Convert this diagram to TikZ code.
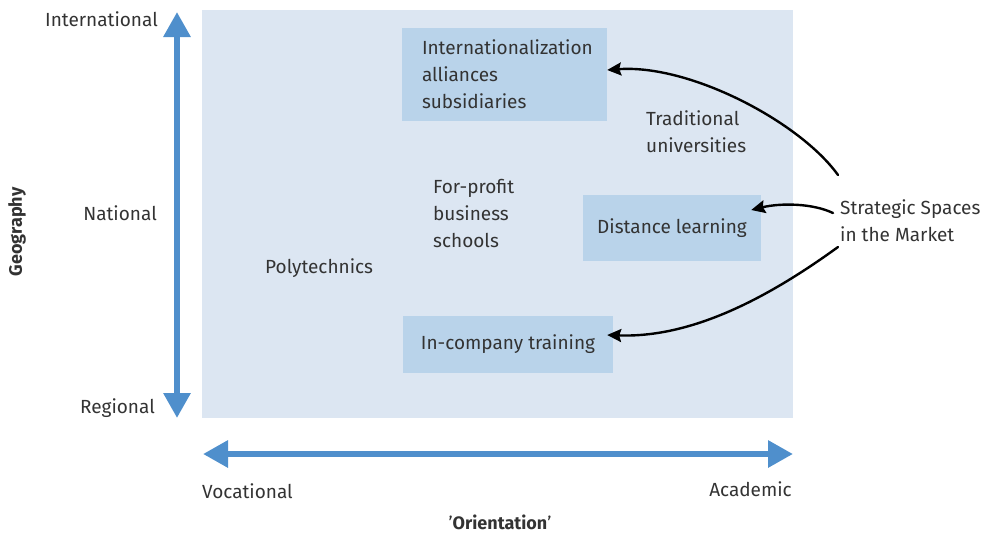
\documentclass[tikz,border=0pt]{standalone}
\usepackage{fontspec}
\setmainfont{Fira Sans}
\usetikzlibrary{arrows.meta}
\definecolor{planeblue}{HTML}{DCE6F2}
\definecolor{spaceblue}{HTML}{B9D3EA}
\definecolor{axisblue}{HTML}{4F8FCC}
\definecolor{inkgray}{HTML}{333333}
\begin{document}
\begin{tikzpicture}[x=1pt,y=-1pt,line cap=round,line join=round,
	lbl/.style={font=\fontsize{19}{27}\selectfont,text=inkgray,inner sep=0pt,align=left},
	spacebox/.style={lbl,fill=spaceblue},
	axisarrow/.style={axisblue,line width=6pt,line cap=butt,{Triangle[width=26pt,length=25pt]}-{Triangle[width=26pt,length=25pt]}},
	link/.style={black,line width=2.4pt,-{Stealth[length=14pt,width=13pt,inset=2pt]}}]
		\useasboundingbox (0,0) rectangle (997,536);
		\fill[planeblue] (202,10) rectangle (793,418);
		\coordinate (geotop) at (177,12);
		\coordinate (geobot) at (177,418);
		\coordinate (orileft) at (203,454);
		\coordinate (oriright) at (793,454);
		\draw[axisarrow] (geobot) -- (geotop);
		\draw[axisarrow] (orileft) -- (oriright);
		\node[spacebox,minimum width=205pt,minimum height=93pt,inner xsep=20pt,text width=165pt] (intl) at (504.5,74.5) {Internationalization\\alliances\\subsidiaries};
		\node[spacebox,minimum width=178pt,minimum height=66pt,align=center] (dist) at (672,228) {Distance learning};
		\node[spacebox,minimum width=210pt,minimum height=57pt,align=center] (inco) at (508,344.5) {In-company training};
		\node[lbl,anchor=west] (trad) at (646,131.5) {Traditional\\universities};
		\node[lbl,anchor=west] (forprofit) at (433,213) {For-profit\\business\\schools};
		\node[lbl,anchor=west] (poly) at (265,268) {Polytechnics};
		\node[lbl,anchor=west] (ss) at (840,220.5) {Strategic Spaces\\in the Market};
		\node[lbl,anchor=east] (intlab) at (158,19) {International};
		\node[lbl,anchor=east] (natlab) at (157,213) {National};
		\node[lbl,anchor=east] (reglab) at (155,408) {Regional};
		\node[lbl,anchor=west] (voclab) at (202,491) {Vocational};
		\node[lbl,anchor=east] (acalab) at (792,489) {Academic};
		\node[lbl,font=\fontsize{18}{27}\selectfont\bfseries,rotate=90] (geolab) at (17,232) {Geography};
		\node[lbl,font=\fontsize{18}{27}\selectfont] (orilab) at (500,522) {'\textbf{Orientation}'};
		\draw[link] ([xshift=-2pt,yshift=45.5pt]ss.west) .. controls (800,122) and (690,64) .. ([yshift=4.5pt]intl.east);
		\draw[link] ([xshift=-7pt,yshift=7.5pt]ss.west) .. controls (812,203) and (780,203) .. ([xshift=-10pt,yshift=18pt]dist.east);
		\draw[link] ([xshift=-2pt,yshift=-26.5pt]ss.west) .. controls (765,300) and (690,338) .. ([xshift=-6pt,yshift=9.5pt]inco.east);
	\end{tikzpicture}
\end{document}
